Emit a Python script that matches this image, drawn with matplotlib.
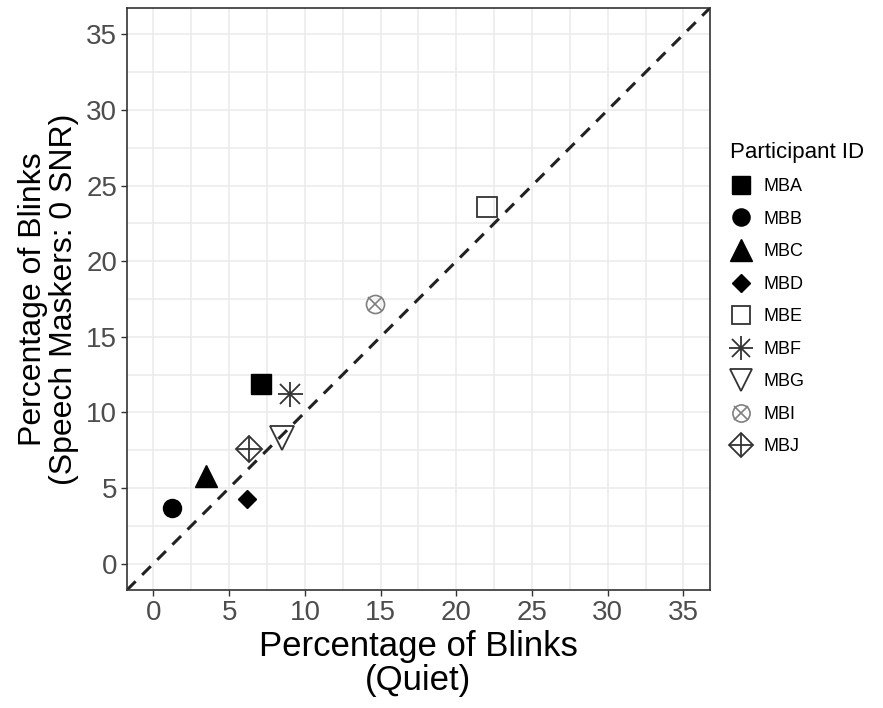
import matplotlib.pyplot as plt
from matplotlib.lines import Line2D
from matplotlib.legend_handler import HandlerTuple

plt.rcParams["font.family"] = ["Liberation Sans", "DejaVu Sans"]

participants = ["MBA", "MBB", "MBC", "MBD", "MBE", "MBF", "MBG", "MBI", "MBJ"]
quiet = [7.1, 1.2, 3.5, 6.2, 22.0, 9.0, 8.5, 14.6, 6.3]
speech = [11.9, 3.7, 5.8, 4.3, 23.6, 11.2, 8.3, 17.2, 7.6]

ticks = [0, 5, 10, 15, 20, 25, 30, 35]

# marker layers per participant: (marker, size, face, edge, edgewidth)
STYLES = {
    "MBA": [("s", 14, "black", "black", 1.0)],
    "MBB": [("o", 13, "black", "black", 1.0)],
    "MBC": [("^", 16, "black", "black", 1.0)],
    "MBD": [("D", 9.5, "black", "black", 1.0)],
    "MBE": [("s", 14, "none", "#333333", 1.3)],
    "MBF": [("+", 18, "none", "#333333", 1.3), ("x", 14, "none", "#333333", 1.3)],
    "MBG": [("v", 17, "none", "#333333", 1.3)],
    "MBI": [("o", 13, "none", "#808080", 1.2), ("x", 10, "none", "#808080", 1.2)],
    "MBJ": [("D", 13, "none", "#333333", 1.3), ("+", 18, "none", "#333333", 1.3)],
}
LEGEND_SCALE = 0.95

fig = plt.figure(figsize=(8.83, 7.08), dpi=100)
ax = fig.add_axes([0.1438, 0.1667, 0.6602, 0.822])

lo, hi = -1.75, 36.75
ax.set_xticks(ticks)
ax.set_yticks(ticks)
ax.set_xticks([t + 2.5 for t in ticks[:-1]] + [-2.5], minor=True)
ax.set_yticks([t + 2.5 for t in ticks[:-1]] + [-2.5], minor=True)
ax.set_xlim(lo, hi)
ax.set_ylim(lo, hi)
ax.grid(True, which="both", color="#ebebeb", linewidth=1.1, zorder=0)
ax.set_axisbelow(True)
ax.tick_params(which="minor", length=0)
ax.tick_params(which="major", length=4, width=1, color="#333333",
               labelsize=20, labelcolor="#4d4d4d", pad=3)
for sp in ax.spines.values():
    sp.set_color("#333333")
    sp.set_linewidth(1.2)

ax.plot([lo, hi], [lo, hi], ls=(0, (4, 3)), color="#222222", lw=2.2, zorder=2)

handles = []
for name, x, y in zip(participants, quiet, speech):
    layers = []
    for m, s, fc, ec, ew in STYLES[name]:
        ax.plot([x], [y], ls="none", marker=m, markersize=s, markerfacecolor=fc,
                markeredgecolor=ec, markeredgewidth=ew, zorder=3)
        layers.append(Line2D([], [], ls="none", marker=m, markersize=s * LEGEND_SCALE,
                             markerfacecolor=fc, markeredgecolor=ec, markeredgewidth=ew))
    handles.append(tuple(layers))

ax.set_xlabel("Percentage of Blinks\n(Quiet)", fontsize=25, labelpad=3, linespacing=1.05)
ax.set_ylabel("Percentage of Blinks\n(Speech Maskers: 0 SNR)", fontsize=23, labelpad=5,
              linespacing=1.05)

leg = fig.legend(handles, participants, handler_map={tuple: HandlerTuple(ndivide=1, pad=0)},
                 loc="upper left", bbox_to_anchor=(0.818, 0.81), frameon=False,
                 title="Participant ID", title_fontsize=16, fontsize=13,
                 labelspacing=0.86, handlelength=1.3, handletextpad=0.6, borderaxespad=0)
leg._legend_box.align = "left"

fig.savefig("out.png", dpi=100)
